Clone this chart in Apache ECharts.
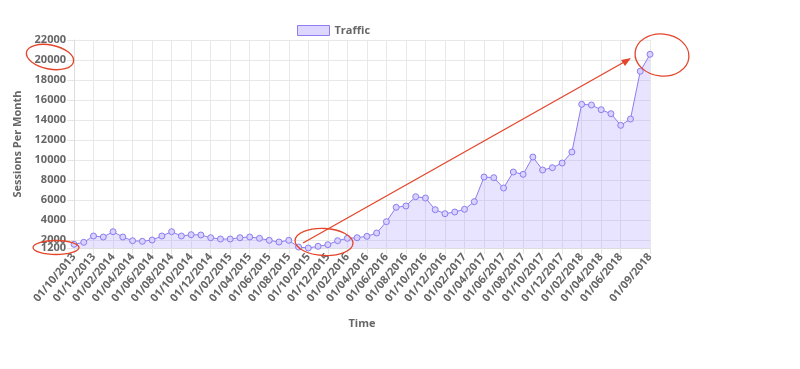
<!DOCTYPE html>
<html>
<head>
<meta charset="utf-8">
<script src="https://cdn.jsdelivr.net/npm/echarts@6/dist/echarts.min.js"></script>
<style>
html,body{margin:0;padding:0;background:#fff;}
#c{width:800px;height:369px;}
</style>
</head>
<body>
<div id="c"></div>
<script>
var categories = [
  '01/10/2013','01/11/2013','01/12/2013',
  '01/01/2014','01/02/2014','01/03/2014','01/04/2014','01/05/2014','01/06/2014','01/07/2014','01/08/2014','01/09/2014','01/10/2014','01/11/2014','01/12/2014',
  '01/01/2015','01/02/2015','01/03/2015','01/04/2015','01/05/2015','01/06/2015','01/07/2015','01/08/2015','01/09/2015','01/10/2015','01/11/2015','01/12/2015',
  '01/01/2016','01/02/2016','01/03/2016','01/04/2016','01/05/2016','01/06/2016','01/07/2016','01/08/2016','01/09/2016','01/10/2016','01/11/2016','01/12/2016',
  '01/01/2017','01/02/2017','01/03/2017','01/04/2017','01/05/2017','01/06/2017','01/07/2017','01/08/2017','01/09/2017','01/10/2017','01/11/2017','01/12/2017',
  '01/01/2018','01/02/2018','01/03/2018','01/04/2018','01/05/2018','01/06/2018','01/07/2018','01/08/2018','01/09/2018'
];
var traffic = [
  1570,1770,2400,2300,2830,2300,1930,1870,2000,2400,
  2830,2400,2530,2500,2230,2100,2100,2230,2300,2170,
  1970,1800,1970,1300,1200,1370,1530,1930,2170,2230,
  2370,2700,3830,5270,5400,6330,6200,5030,4630,4800,
  5070,5830,8300,8230,7200,8800,8570,10300,9000,9230,
  9700,10800,15570,15500,15030,14630,13470,14100,18870,20570
];
var yMin = 1200;
var yMax = 22000;
var yTicks = [2000,4000,6000,8000,10000,12000,14000,16000,18000,20000,22000];
var seriesName = 'Traffic';

var lineColor = '#8c7ef0';
var fillColor = 'rgba(150,130,255,0.32)';
var txt = '#666';
var font = 'Open Sans';
var red = '#e3452b';

function showX(i){ return (i % 2 === 0 && i !== categories.length - 2) || i === categories.length - 1; }
var labelStyle = {color:txt, fontWeight:'bold', fontSize:11, fontFamily:font};

var chart = echarts.init(document.getElementById('c'), null, {renderer:'canvas'});
chart.setOption({
  animation:false,
  backgroundColor:'#fff',
  textStyle:{fontFamily:font},
  legend:{
    data:[seriesName], left:292, top:20, icon:'rect', itemWidth:32, itemHeight:10, itemGap:6,
    itemStyle:{color:'#ddd7ff', borderColor:lineColor, borderWidth:1},
    textStyle:labelStyle
  },
  grid:{left:74, right:150, top:40, bottom:121},
  xAxis:{
    type:'category', data:categories, boundaryGap:false,
    name:'Time', nameLocation:'middle', nameGap:70,
    nameTextStyle:labelStyle,
    axisLine:{lineStyle:{color:'#ddd'}},
    axisTick:{show:true, length:6, interval:function(i){return showX(i);}, lineStyle:{color:'#e4e4e4'}},
    axisLabel:Object.assign({interval:function(i){return showX(i);}, rotate:50, margin:7}, labelStyle),
    splitLine:{show:true, interval:function(i){return showX(i);}, lineStyle:{color:'#e8e8e8'}}
  },
  yAxis:[{
    type:'value', min:yMin, max:yMax, position:'left',
    name:'Sessions Per Month', nameLocation:'middle', nameGap:50, nameRotate:90,
    nameTextStyle:labelStyle,
    axisLine:{show:true, lineStyle:{color:'#ddd'}},
    axisTick:{show:true, length:7, customValues:yTicks, lineStyle:{color:'#e4e4e4'}},
    axisLabel:Object.assign({customValues:yTicks, margin:8, hideOverlap:false,
      formatter:function(v){return String(v);}}, labelStyle),
    splitLine:{show:true, lineStyle:{color:'#e8e8e8'}}
  },{
    type:'value', min:yMin, max:yMax, position:'left', offset:0,
    axisLine:{show:false},
    axisTick:{show:true, length:7, customValues:[yMin], lineStyle:{color:'#e4e4e4'}},
    axisLabel:Object.assign({customValues:[yMin], margin:8, hideOverlap:false,
      formatter:function(v){return String(v);}}, labelStyle),
    splitLine:{show:false}
  }],
  series:[{
    name:seriesName, type:'line', data:traffic, yAxisIndex:0,
    symbol:'circle', symbolSize:6, showAllSymbol:true,
    lineStyle:{color:lineColor, width:1},
    itemStyle:{color:'#d9d2ff', borderColor:lineColor, borderWidth:1},
    areaStyle:{color:fillColor, origin:'start'}
  }],
  graphic:[
    {type:'ellipse', shape:{cx:0, cy:0, rx:24, ry:12}, x:50, y:57, rotation:-0.2,
     style:{fill:'none', stroke:red, lineWidth:1.3}, z:100},
    {type:'ellipse', shape:{cx:0, cy:0, rx:23, ry:7}, x:56, y:247.5, rotation:0,
     style:{fill:'none', stroke:red, lineWidth:1.3}, z:100},
    {type:'ellipse', shape:{cx:0, cy:0, rx:29, ry:13.5}, x:324, y:242, rotation:-0.05,
     style:{fill:'none', stroke:red, lineWidth:1.3}, z:100},
    {type:'ellipse', shape:{cx:0, cy:0, rx:27, ry:21}, x:662, y:55, rotation:-0.1,
     style:{fill:'none', stroke:red, lineWidth:1.3}, z:100},
    {type:'line', shape:{x1:303, y1:243, x2:626, y2:61}, style:{stroke:red, lineWidth:1.3}, z:100},
    {type:'polygon', shape:{points:[[631,58],[621,60],[625,66]]}, style:{fill:red}, z:100}
  ]
});
</script>
</body>
</html>
